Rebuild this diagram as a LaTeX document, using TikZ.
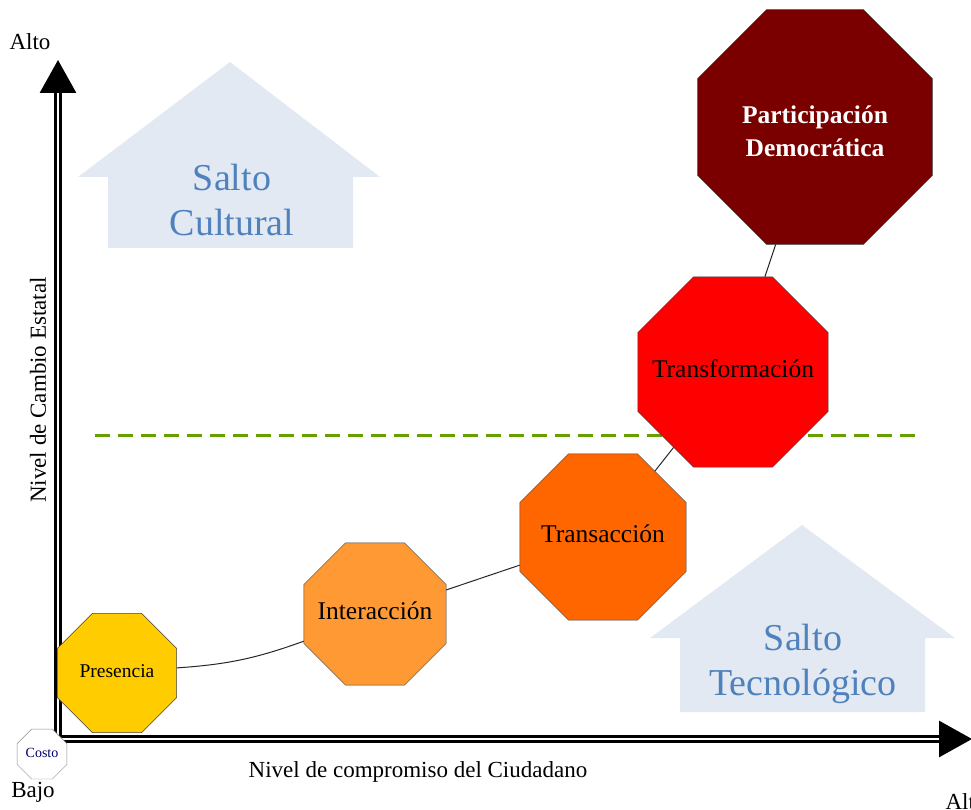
\documentclass[tikz,border=0pt]{standalone}
\usepackage{fontspec}
\setmainfont{Liberation Serif}
\usepackage{tikz}
\usetikzlibrary{arrows.meta, shapes.geometric}

\definecolor{presencia}{RGB}{255,204,0}
\definecolor{interaccion}{RGB}{255,153,51}
\definecolor{transaccion}{RGB}{255,102,0}
\definecolor{transformacion}{RGB}{255,0,0}
\definecolor{participacion}{RGB}{122,0,0}
\definecolor{saltofill}{RGB}{226,233,242}
\definecolor{saltotext}{RGB}{79,129,189}
\definecolor{umbral}{RGB}{102,160,0}

\newcommand{\etiqueta}[1]{\makebox[0pt]{\begin{tabular}{@{}c@{}}#1\end{tabular}}}

\begin{document}
\begin{tikzpicture}[
    x=1pt, y=-1pt,
    octa/.style={
        regular polygon,
        regular polygon sides=8,
        draw=black!75,
        thin,
        inner sep=0pt
    },
    axisline/.style={
        draw=black,
        line width=3pt,
        double=white,
        double distance=1.2pt
    },
    axistip/.style={
        line width=3pt,
        -{Triangle[length=33pt,width=36pt]}
    },
    axislabel/.style={
        font=\fontsize{23}{27}\selectfont
    },
    salto/.style={
        text=saltotext,
        align=center,
        font=\fontsize{38}{45}\selectfont
    },
    enlace/.style={
        draw=black!85,
        line width=1pt
    }
    ]
    \useasboundingbox (0,0) rectangle (971,810);

    % flechas de fondo
    \fill[saltofill] (108,248) -- (108,177) -- (78,177) -- (230,62)
        -- (380,177) -- (353,177) -- (353,248) -- cycle;
    \fill[saltofill] (680,712) -- (680,638) -- (650,638) -- (802,525)
        -- (955,638) -- (925,638) -- (925,712) -- cycle;
    \node[salto] (cultural) at (232,200) {Salto\\Cultural};
    \node[salto] (tecnologico) at (803,664) {Salto\\Tecnológico};

    % ejes
    \coordinate (ybase) at (58,746);
    \coordinate (ytop) at (58,92);
    \coordinate (yend) at (58,60);
    \coordinate (xbase) at (53,739);
    \coordinate (xtop) at (942,739);
    \coordinate (xend) at (972,739);
    \draw[axisline] (ybase) -- (ytop);
    \draw[axisline] (xbase) -- (xtop);
    \draw[axistip] (ytop) -- (yend);
    \draw[axistip] (xtop) -- (xend);

    \node[axislabel] (altoy) at (30,42) {Alto};
    \node[axislabel] (bajo) at (33,792) {Bajo};
    \node[axislabel, anchor=west] (altox) at (942,802) {Alto};
    \node[axislabel] (compromiso) at (418,772) {Nivel de compromiso del Ciudadano};
    \node[axislabel, rotate=90] (cambio) at (38,390) {Nivel de Cambio Estatal};

    % umbral
    \coordinate (umbralA) at (95,435);
    \coordinate (umbralB) at (918,435);
    \draw[umbral, line width=3pt, dash pattern=on 15pt off 8pt] (umbralA) -- (umbralB);

    % etapas
    \node[octa, fill=presencia, minimum size=129pt,
        font=\fontsize{19.5}{22}\selectfont] (pres) at (117,673) {\etiqueta{Presencia}};
    \node[octa, fill=interaccion, minimum size=154pt,
        font=\fontsize{25.5}{29}\selectfont] (inter) at (375,614) {\etiqueta{Interacción}};
    \node[octa, fill=transaccion, minimum size=180pt,
        font=\fontsize{25.5}{29}\selectfont] (trans) at (603,537) {\etiqueta{Transacción}};
    \node[octa, fill=transformacion, minimum size=206pt,
        font=\fontsize{25.5}{29}\selectfont] (transf) at (733,372) {\etiqueta{Transformación}};
    \node[octa, fill=participacion, minimum size=254pt, text=white,
        font=\bfseries\fontsize{25.5}{33}\selectfont] (part) at (815,127)
        {\raisebox{-13pt}[0pt][0pt]{\etiqueta{Participación\\Democrática}}};
    \node[octa, draw=black!45, fill=white, minimum size=54pt, text=blue!40!black,
        font=\fontsize{14}{16}\selectfont] (costo) at (42,754) {\etiqueta{Costo}};

    \draw[enlace] (pres) to[bend right=8] (inter);
    \draw[enlace] (inter) -- (trans);
    \draw[enlace] (trans) -- (transf);
    \draw[enlace] (transf) -- (part);
\end{tikzpicture}
\end{document}
